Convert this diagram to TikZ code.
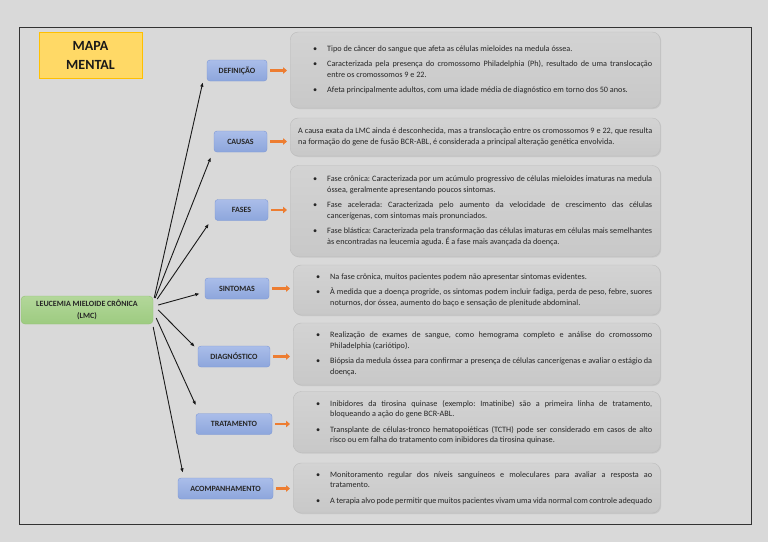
\documentclass[tikz,border=0pt]{standalone}
\usepackage{fontspec}
\setmainfont{Carlito}
\usepackage{xcolor}
\usepackage{tikz}
\usetikzlibrary{arrows.meta,positioning,calc,shadows}

\definecolor{bgGray}{HTML}{D9D9D9}
\definecolor{catTop}{HTML}{AABDE9}
\definecolor{catBot}{HTML}{8DA6DC}
\definecolor{catLine}{HTML}{7D98D6}
\definecolor{infoTop}{HTML}{D3D3D3}
\definecolor{infoBot}{HTML}{C8C8C8}
\definecolor{infoLine}{HTML}{BCBCBC}
\definecolor{rootTop}{HTML}{B3D79A}
\definecolor{rootBot}{HTML}{9DCB80}
\definecolor{rootLine}{HTML}{92C274}
\definecolor{titleFill}{HTML}{FFD966}
\definecolor{titleLine}{HTML}{FFC000}
\definecolor{hintOrange}{HTML}{ED7D31}
\definecolor{hintEdge}{HTML}{5A6A8A}

\hyphenpenalty=10000
\exhyphenpenalty=10000
\frenchspacing

% bullet paragraph inside the grey panels
\newcommand{\bul}[1]{\hangindent=29pt\hangafter=0\noindent\llap{\textbullet\hspace{10pt}}#1\par}
\newcommand{\gap}{\vspace{5pt}}

\begin{document}
\begin{tikzpicture}[x=1pt, y=-1pt, >=Latex]

  % ===== Styles =====
  \tikzset{
    arrow/.style={-{Latex[length=4.5pt,width=3.6pt]}, line width=0.9pt, black!90},
    hint/.style={-{Triangle[length=4pt,width=6.5pt]}, line width=2.4pt, hintOrange, shorten >=3pt},
    cat/.style={draw=catLine, rounded corners=3pt, top color=catTop, bottom color=catBot, minimum height=21pt, inner sep=2pt, font=\fontsize{8}{9}\selectfont\bfseries, text=black!85},
    info/.style={draw=infoLine, rounded corners=8pt, top color=infoTop, bottom color=infoBot, text width=354pt, inner xsep=8pt, inner ysep=3pt, align=justify, anchor=west, font=\fontsize{8.2}{10.5}\selectfont, text=black!85, drop shadow={shadow xshift=1pt, shadow yshift=-1pt, opacity=.2}},
    root/.style={draw=rootLine, rounded corners=4pt, top color=rootTop, bottom color=rootBot, minimum width=132pt, minimum height=28pt, align=center, font=\fontsize{8}{11.5}\selectfont\bfseries, text=black!85},
    title/.style={draw=titleLine, line width=0.8pt, fill=titleFill, minimum width=103pt, minimum height=46pt, align=center, font=\fontsize{14}{19}\selectfont\bfseries, text=black!90}
  }

  % ===== Page and frame =====
  \fill[bgGray] (0,0) rectangle (768,542);
  \useasboundingbox (0,0) rectangle (768,542);
  \draw[line width=1pt, black!80] (19,27) rectangle (751,524);

  % ===== Title and centre =====
  \node[title] (map) at (90.5,55) {MAPA\\MENTAL};
  \node[root] (lmc) at (87,310) {LEUCEMIA MIELOIDE CRÔNICA\\(LMC)};

  % ===== Topics =====
  \node[cat, minimum width=60pt] (def) at (237,70.5) {DEFINIÇÃO};
  \node[cat, minimum width=53pt] (cau) at (240.5,141.5) {CAUSAS};
  \node[cat, minimum width=53pt] (fas) at (241.5,210) {FASES};
  \node[cat, minimum width=64pt] (sin) at (237,288.5) {SINTOMAS};
  \node[cat, minimum width=72pt] (dia) at (234,356.5) {DIAGNÓSTICO};
  \node[cat, minimum width=76pt] (tra) at (234,424) {TRATAMENTO};
  \node[cat, minimum width=95pt] (aco) at (225.5,488.5) {ACOMPANHAMENTO};

  % ===== Panels =====
  \node[info, minimum height=76pt] (defTxt) at (290,70) {%
    \bul{Tipo de câncer do sangue que afeta as células mieloides na medula óssea.}\gap
    \bul{Caracterizada pela presença do cromossomo Philadelphia (Ph), resultado de uma translocação\linebreak entre os cromossomos 9 e 22.}\gap
    \bul{Afeta principalmente adultos, com uma idade média de diagnóstico em torno dos 50 anos.}};

  \node[info, minimum height=38pt] (cauTxt) at (290,137) {A causa exata da LMC ainda é desconhecida, mas a translocação entre os cromossomos 9 e 22, que resulta\linebreak na formação do gene de fusão BCR-ABL, é considerada a principal alteração genética envolvida.};

  \node[info, minimum height=91pt] (fasTxt) at (290,211) {%
    \bul{Fase crônica: Caracterizada por um acúmulo progressivo de células mieloides imaturas na medula\linebreak óssea, geralmente apresentando poucos sintomas.}\gap
    \bul{Fase acelerada: Caracterizada pelo aumento da velocidade de crescimento das células\linebreak cancerígenas, com sintomas mais pronunciados.}\gap
    \bul{Fase blástica: Caracterizada pela transformação das células imaturas em células mais semelhantes\linebreak às encontradas na leucemia aguda. É a fase mais avançada da doença.}};

  \node[info, text width=351pt, minimum height=50pt] (sinTxt) at (293,290) {%
    \bul{Na fase crônica, muitos pacientes podem não apresentar sintomas evidentes.}\gap
    \bul{À medida que a doença progride, os sintomas podem incluir fadiga, perda de peso, febre, suores\linebreak noturnos, dor óssea, aumento do baço e sensação de plenitude abdominal.}};

  \node[info, text width=351pt, minimum height=62pt] (diaTxt) at (293,354) {%
    \bul{Realização de exames de sangue, como hemograma completo e análise do cromossomo\linebreak Philadelphia (cariótipo).}\gap
    \bul{Biópsia da medula óssea para confirmar a presença de células cancerígenas e avaliar o estágio da\linebreak doença.}};

  \node[info, text width=351pt, minimum height=61pt] (traTxt) at (293,422) {%
    \bul{Inibidores da tirosina quinase (exemplo: Imatinibe) são a primeira linha de tratamento,\linebreak bloqueando a ação do gene BCR-ABL.}\gap
    \bul{Transplante de células-tronco hematopoiéticas (TCTH) pode ser considerado em casos de alto\linebreak risco ou em falha do tratamento com inibidores da tirosina quinase.}};

  \node[info, text width=351pt, minimum height=50pt] (acoTxt) at (293,488) {%
    \bul{Monitoramento regular dos níveis sanguíneos e moleculares para avaliar a resposta ao\linebreak tratamento.}\gap
    \bul{A terapia alvo pode permitir que muitos pacientes vivam uma vida normal com controle adequado}};

  % ===== Branches from the centre =====
  \draw[arrow] ([xshift=1pt,yshift=12pt]lmc.east) -- ([xshift=-4pt,yshift=-1pt]def.south west);
  \draw[arrow] ([xshift=2pt,yshift=12pt]lmc.east) -- ([xshift=-3pt,yshift=-5pt]cau.south west);
  \draw[arrow] ([xshift=4pt,yshift=11pt]lmc.east) -- ([xshift=-6pt,yshift=-3pt]fas.south west);
  \draw[arrow] ([xshift=5pt,yshift=5pt]lmc.east) -- ([xshift=-5pt,yshift=-5pt]sin.west);
  \draw[arrow] ([xshift=5pt]lmc.east) -- ([xshift=-3pt,yshift=-1pt]dia.north west);
  \draw[arrow] ([xshift=3pt,yshift=-8pt]lmc.east) -- ([yshift=8pt]tra.north west);
  \draw[arrow] ([yshift=-17pt]lmc.east) -- ([xshift=5pt,yshift=5pt]aco.north west);

  % ===== Topic -> panel =====
  \draw[hint] ([xshift=3pt]def.east) -- (def.east -| defTxt.west);
  \draw[hint] ([xshift=3pt]cau.east) -- (cau.east -| cauTxt.west);
  \draw[hint] ([xshift=3pt]fas.east) -- (fas.east -| fasTxt.west);
  \draw[hint] ([xshift=3pt]sin.east) -- (sin.east -| sinTxt.west);
  \draw[hint] ([xshift=3pt]dia.east) -- (dia.east -| diaTxt.west);
  \draw[hint] ([xshift=3pt]tra.east) -- (tra.east -| traTxt.west);
  \draw[hint] ([xshift=3pt]aco.east) -- (aco.east -| acoTxt.west);

\end{tikzpicture}
\end{document}
